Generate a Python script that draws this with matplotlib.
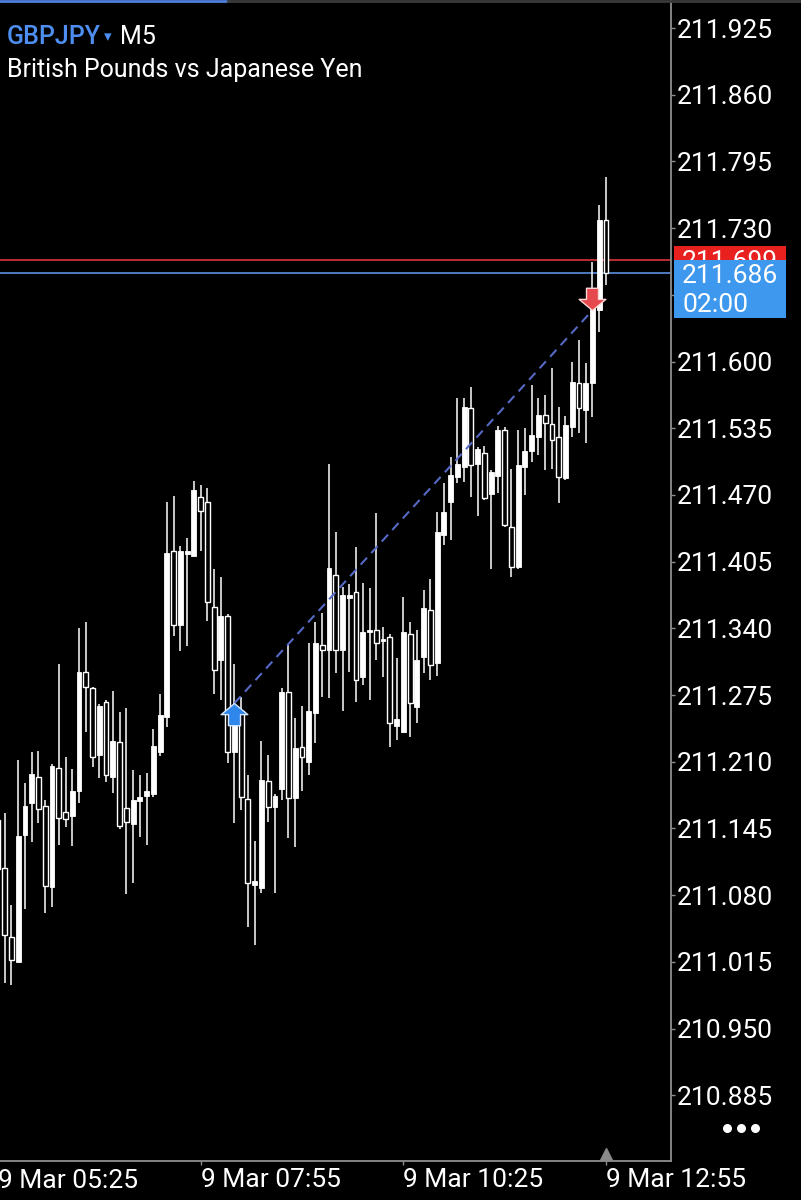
import numpy as np
import matplotlib.pyplot as plt
from matplotlib.patches import Rectangle
from matplotlib.path import Path

plt.rcParams['font.family'] = ['Roboto', 'DejaVu Sans']

symbol = "GBPJPY"
timeframe = "M5"
description = "British Pounds vs Japanese Yen"

# M5 candles, first one is 9 Mar 05:25, last one 12:55
opens = [211.153, 211.106, 211.039, 211.015, 211.139, 211.170, 211.195, 211.167, 211.088, 211.204,
         211.161, 211.157, 211.181, 211.297, 211.282, 211.217, 211.268, 211.195, 211.229, 211.165,
         211.149, 211.172, 211.177, 211.179, 211.219, 211.254, 211.415, 211.343, 211.412, 211.410,
         211.468, 211.463, 211.361, 211.309, 211.352, 211.219, 211.259, 211.174, 211.090, 211.087,
         211.191, 211.166, 211.183, 211.278, 211.175, 211.224, 211.210, 211.257, 211.324, 211.319,
         211.392, 211.319, 211.370, 211.375, 211.293, 211.336, 211.338, 211.328, 211.332, 211.245,
         211.239, 211.334, 211.263, 211.312, 211.358, 211.306, 211.431, 211.463, 211.487, 211.497,
         211.555, 211.500, 211.511, 211.471, 211.488, 211.533, 211.439, 211.400, 211.497, 211.513,
         211.526, 211.548, 211.539, 211.526, 211.486, 211.536, 211.579, 211.553, 211.579, 211.650,
         211.738]
highs = [211.178, 211.160, 211.070, 211.212, 211.189, 211.219, 211.220, 211.173, 211.208, 211.305,
         211.215, 211.203, 211.340, 211.346, 211.283, 211.266, 211.270, 211.279, 211.258, 211.262,
         211.202, 211.197, 211.199, 211.242, 211.276, 211.463, 211.469, 211.420, 211.428, 211.484,
         211.480, 211.477, 211.398, 211.390, 211.354, 211.305, 211.273, 211.197, 211.133, 211.230,
         211.217, 211.179, 211.282, 211.324, 211.253, 211.264, 211.326, 211.346, 211.355, 211.500,
         211.434, 211.380, 211.383, 211.419, 211.384, 211.379, 211.452, 211.341, 211.334, 211.311,
         211.371, 211.346, 211.338, 211.377, 211.388, 211.453, 211.482, 211.507, 211.564, 211.564,
         211.575, 211.517, 211.518, 211.494, 211.537, 211.536, 211.495, 211.533, 211.535, 211.577,
         211.564, 211.567, 211.594, 211.556, 211.547, 211.600, 211.621, 211.599, 211.697, 211.753,
         211.780]
lows = [211.095, 210.994, 210.992, 211.014, 211.066, 211.132, 211.150, 211.063, 211.068, 211.129,
        211.146, 211.128, 211.170, 211.239, 211.205, 211.194, 211.190, 211.180, 211.144, 211.081,
        211.092, 211.137, 211.129, 211.176, 211.216, 211.244, 211.333, 211.318, 211.323, 211.410,
        211.415, 211.347, 211.276, 211.270, 211.209, 211.150, 211.163, 211.049, 211.031, 211.082,
        211.151, 211.082, 211.173, 211.136, 211.127, 211.181, 211.197, 211.228, 211.273, 211.272,
        211.296, 211.259, 211.297, 211.268, 211.285, 211.270, 211.309, 211.293, 211.224, 211.231,
        211.238, 211.234, 211.248, 211.296, 211.290, 211.294, 211.421, 211.426, 211.482, 211.483,
        211.468, 211.449, 211.465, 211.398, 211.472, 211.439, 211.390, 211.398, 211.470, 211.502,
        211.509, 211.494, 211.495, 211.462, 211.485, 211.526, 211.530, 211.521, 211.546, 211.629,
        211.675]
closes = [211.105, 211.041, 211.017, 211.138, 211.167, 211.198, 211.164, 211.089, 211.206, 211.155,
          211.154, 211.181, 211.297, 211.283, 211.215, 211.264, 211.197, 211.230, 211.147, 211.151,
          211.173, 211.176, 211.181, 211.225, 211.256, 211.413, 211.343, 211.415, 211.415, 211.475,
          211.454, 211.366, 211.299, 211.352, 211.219, 211.251, 211.176, 211.092, 211.094, 211.192,
          211.166, 211.177, 211.278, 211.175, 211.223, 211.215, 211.259, 211.326, 211.319, 211.399,
          211.319, 211.372, 211.372, 211.290, 211.336, 211.338, 211.326, 211.330, 211.248, 211.252,
          211.336, 211.267, 211.309, 211.360, 211.304, 211.434, 211.453, 211.489, 211.500, 211.556,
          211.499, 211.515, 211.467, 211.492, 211.533, 211.441, 211.400, 211.499, 211.513, 211.528,
          211.548, 211.540, 211.524, 211.487, 211.538, 211.580, 211.555, 211.579, 211.655, 211.738,
          211.686]

ask = 211.699
bid = 211.686
countdown = "02:00"

# closed buy trade: entry bar / price, exit bar / price
trade_bars = [34, 87]
trade_prices = [211.267, 211.650]

price_ticks = [211.925, 211.860, 211.795, 211.730, 211.665, 211.600, 211.535, 211.470, 211.405,
               211.340, 211.275, 211.210, 211.145, 211.080, 211.015, 210.950, 210.885]
time_ticks = [-1, 29, 59, 89]
time_labels = ["9 Mar 05:25", "9 Mar 07:55", "9 Mar 10:25", "9 Mar 12:55"]

W, H = 801, 1200
fig = plt.figure(figsize=(W / 100, H / 100), dpi=100, facecolor='black')
ax = fig.add_axes([0, 39 / H, 671 / W, 1161 / H])
ax.set_facecolor('black')

o = np.array(opens)
c = np.array(closes)
hi = np.array(highs)
lo = np.array(lows)
idx = np.arange(-1, len(o) - 1)
up = c >= o
body_lo = np.minimum(o, c)
body_h = np.maximum(np.abs(c - o), 0.0012)

ax.axhline(ask, color='#d8363b', lw=1.2, zorder=1)
ax.axhline(bid, color='#5b8ee0', lw=1.2, zorder=1)

ax.vlines(idx, lo, hi, color='white', lw=1.1, zorder=2)
ax.bar(idx[up], body_h[up], bottom=body_lo[up], width=0.72, color='white',
       edgecolor='white', lw=0.6, zorder=3)
ax.bar(idx[~up], body_h[~up], bottom=body_lo[~up], width=0.72, facecolor='black',
       edgecolor='white', lw=1.0, zorder=3)

# trade line + arrows
ax.plot(trade_bars, trade_prices, ls=(0, (4.5, 3)), color='#5669c4', lw=1.5, zorder=4)
up_verts = [(0, 0), (0.6, -0.5), (0.27, -0.5), (0.27, -1.0), (-0.27, -1.0), (-0.27, -0.5), (-0.6, -0.5), (0, 0)]
codes = [Path.MOVETO] + [Path.LINETO] * 6 + [Path.CLOSEPOLY]
up_arrow = Path(up_verts, codes)
down_arrow = Path([(x, -y) for x, y in up_verts], codes)
ax.plot(trade_bars[0], trade_prices[0], marker=up_arrow, ms=32, mfc='#2f86eb', mec='#d6e6ff',
        mew=1.0, zorder=6, clip_on=False)
ax.plot(trade_bars[1], trade_prices[1], marker=down_arrow, ms=32, mfc='#e5484d', mec='#ffd6d6',
        mew=1.0, zorder=6, clip_on=False)

ax.set_xlim(-0.696, 98.62)
ax.set_ylim(210.8209, 211.9523)

grey = '#8e8e8e'
for s in ['top', 'left']:
    ax.spines[s].set_visible(False)
for s in ['right', 'bottom']:
    ax.spines[s].set_color(grey)
    ax.spines[s].set_linewidth(1.3)

ax.yaxis.tick_right()
ax.set_yticks(price_ticks)
ax.set_yticklabels([f"{p:.3f}" for p in price_ticks])
ax.tick_params(axis='y', colors=grey, labelcolor='white', labelsize=19, length=3, width=1, pad=1.5)

ax.set_xticks(time_ticks[1:])
ax.set_xticklabels(time_labels[1:], ha='left')
ax.tick_params(axis='x', colors=grey, labelcolor='white', labelsize=19, length=3, width=1, pad=2)
ax.text(time_ticks[0], -0.007, time_labels[0], transform=ax.get_xaxis_transform(),
        color='white', fontsize=19, ha='left', va='top', clip_on=False)

# chart shift marker
ax.plot(time_ticks[-1], 0.006, marker='^', ms=9, color='#8a8a8a', transform=ax.get_xaxis_transform(),
        clip_on=False, zorder=6)

# price labels on the scale (bid box covers the ask label, like the terminal does)
yt = ax.get_yaxis_transform()
px = 0.0009745
ax.add_patch(Rectangle((674 / 671, ask - 14 * px), 112 / 671, 28 * px, transform=yt,
                       facecolor='#e8211f', edgecolor='none', clip_on=False, zorder=5))
ax.text(682 / 671, ask, f"{ask:.3f}", transform=yt, color='white', fontsize=19,
        va='center_baseline', ha='left', clip_on=False, zorder=6)
ax.add_patch(Rectangle((674 / 671, ask - 58 * px), 112 / 671, 58 * px, transform=yt,
                       facecolor='#3d98ee', edgecolor='none', clip_on=False, zorder=7))
ax.text(682 / 671, bid, f"{bid:.3f}", transform=yt, color='white', fontsize=19,
        va='center_baseline', ha='left', clip_on=False, zorder=8)
ax.text(682 / 671, bid - 29 * px, countdown, transform=yt, color='white', fontsize=19,
        va='center_baseline', ha='left', clip_on=False, zorder=8)

# header
fig.text(7 / W, 1 - 35 / H, symbol, color='#4d8ef0', fontsize=18, weight='medium', va='center_baseline')
fig.text(104 / W, 1 - 35 / H, "\u25be", color='#4d8ef0', fontsize=11, va='center_baseline',
         family='DejaVu Sans')
fig.text(120 / W, 1 - 35 / H, timeframe, color='white', fontsize=18, va='center_baseline')
fig.text(7 / W, 1 - 67 / H, description, color='white', fontsize=18, va='center_baseline')

# app chrome: top progress bar, menu dots
ui = fig.add_axes([0, 0, 1, 1], zorder=10)
ui.set_xlim(0, W)
ui.set_ylim(H, 0)
ui.axis('off')
ui.patch.set_alpha(0)
ui.plot([0, 228], [1, 1], color='#4d7fdc', lw=2)
ui.plot([228, W], [1, 1], color='#3a3a3a', lw=2)
ui.scatter([727, 741, 755], [1128, 1128, 1128], s=30, color='white')

fig.savefig('out.png', dpi=100, facecolor='black')
